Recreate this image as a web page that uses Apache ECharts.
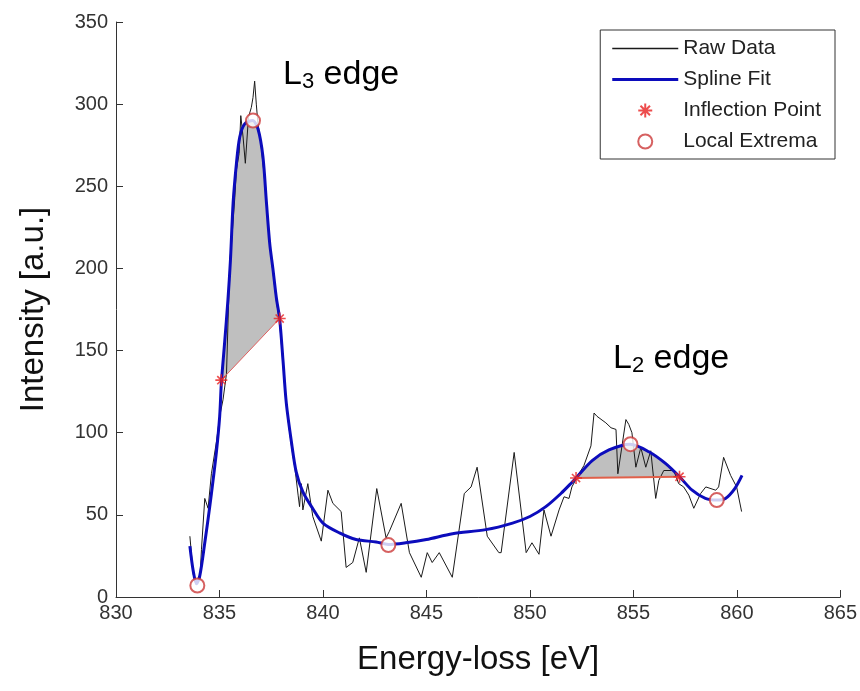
<!DOCTYPE html>
<html lang="en">
<head>
<meta charset="UTF-8">
<title>EELS L-edges</title>
<script src="https://cdn.jsdelivr.net/npm/echarts@6.0.0/dist/echarts.min.js"></script>
<style>html,body{margin:0;padding:0;background:#fff}</style>
</head>
<body>
<div id="chart" style="width:860px;height:691px"></div>
<script>
// raw spectrum (energy-loss eV, intensity a.u.)
var rawX = [833.57, 833.73, 833.81, 834.05, 834.13, 834.29, 834.45, 834.61, 834.86, 835.01,
    835.17, 835.34, 835.5, 835.58, 835.74, 835.82, 835.95, 836.03, 836.14, 836.25,
    836.4, 836.54, 836.62, 836.7, 836.78, 836.86, 837.0, 837.15, 837.3, 837.45,
    837.6, 837.75, 837.9, 838.05, 838.2, 838.35, 838.5, 838.65, 838.8, 838.87,
    838.95, 839.03, 839.27, 839.51, 839.92, 840.24, 840.48, 840.88, 841.12, 841.44,
    841.76, 842.09, 842.6, 843.05, 843.21, 843.78, 844.18, 844.75, 845.04, 845.28,
    845.62, 846.25, 846.83, 847.16, 847.45, 847.94, 848.5, 848.61, 849.24, 849.82,
    850.1, 850.44, 850.68, 851.02, 851.41, 851.65, 851.89, 852.03, 852.37, 852.61,
    852.95, 853.1, 853.24, 853.67, 853.92, 854.16, 854.25, 854.64, 854.78, 854.93,
    855.12, 855.36, 855.6, 855.84, 856.08, 856.23, 856.47, 856.95, 857.19, 857.43,
    857.68, 857.92, 858.25, 858.5, 858.98, 859.12, 859.36, 859.7, 859.99, 860.23];
var rawY = [37, 14, 10, 10, 29, 60, 54, 75, 95, 110,
    120, 136, 205, 215, 243, 260, 270, 293, 280, 264,
    292, 298, 304, 314, 300, 288, 276, 258, 236, 212,
    196, 180, 168, 145, 120, 104, 90, 78, 62, 55,
    69, 53, 69, 49, 34, 65, 57, 52, 18, 21,
    36, 15, 66, 36, 40, 57, 27, 12, 27, 21,
    27, 12, 63, 67, 79, 37, 27, 27, 88, 27,
    33, 26, 53, 37, 53, 61, 60, 67, 75, 80,
    92, 112, 110, 106, 103, 102, 75, 108, 105, 100,
    79, 91, 79, 89, 60, 71, 77, 77, 69, 67,
    62, 54, 63, 67, 65, 67, 85, 74, 67, 52];

// spline fit
var fitX = [833.57, 833.73, 833.89, 834.05, 834.29, 834.53, 834.69, 834.85, 835.01, 835.09,
    835.25, 835.41, 835.53, 835.66, 835.82, 835.98, 836.22, 836.6, 836.86, 837.1,
    837.27, 837.43, 837.58, 837.75, 837.91, 838.07, 838.23, 838.47, 838.71, 839.03,
    839.5, 840.0, 840.8, 841.6, 842.57, 843.16, 844.0, 845.0, 846.26, 847.87,
    849.16, 850.0, 850.77, 851.5, 852.05, 852.23, 853.01, 853.82, 854.85, 855.75,
    856.55, 857.23, 857.84, 858.48, 859.04, 859.45, 859.9, 860.25];
var fitY = [31, 16, 8, 13, 33, 55, 71, 88, 110, 130,
    155, 181, 205, 240, 264, 280, 288, 290, 285, 268,
    240, 215, 200, 182, 169, 144, 118, 95, 76, 64,
    54, 45, 39, 35, 33.5, 32, 33, 35, 38.5, 41,
    45, 49, 55, 63, 70, 72.4, 83, 89.5, 93, 88.4,
    81.3, 73.2, 65, 60, 59, 60, 66, 74];

var inflX = [835.09, 837.91, 852.23, 857.23];
var inflY = [132, 169.5, 72.4, 73.2];
var extX = [833.93, 836.62, 843.16, 854.86, 859.03];
var extY = [7, 290, 31.6, 93, 59];

var xRange = [830, 865, 5];
var yRange = [0, 350, 50];

function zip(xs, ys) {
    return xs.map(function (x, i) { return [x, ys[i]]; });
}

// region under the fit between two inflection points
function region(a, b) {
    var pts = [[inflX[a], inflY[a]]];
    for (var i = 0; i < fitX.length; i++) {
        if (fitX[i] > inflX[a] && fitX[i] < inflX[b]) pts.push([fitX[i], fitY[i]]);
    }
    pts.push([inflX[b], inflY[b]]);
    return pts;
}
var regions = [region(0, 1), region(2, 3)];

var starPath = 'path://M5,0L5,10M0,5L10,5M1.6,1.6L8.4,8.4M8.4,1.6L1.6,8.4';
var tickFont = '"Liberation Sans Narrow", "Liberation Sans", Arial, sans-serif';
var textFont = '"Liberation Sans", Arial, sans-serif';

var chart = echarts.init(document.getElementById('chart'));

var edgeRich = {
    n: { fontSize: 34, fontFamily: textFont, fill: '#000', lineHeight: 36 },
    s: { fontSize: 22, fontFamily: textFont, fill: '#000', lineHeight: 12, verticalAlign: 'bottom' }
};

var option = {
    animation: false,
    backgroundColor: '#fff',
    grid: { left: 116, right: 18, top: 22, bottom: 94 },
    legend: {
        data: [
            { name: 'Raw Data', icon: 'path://M0,0H66V1.3H0Z' },
            { name: 'Spline Fit', icon: 'path://M0,0H66V3H0Z' },
            { name: 'Inflection Point' },
            { name: 'Local Extrema' }
        ],
        orient: 'vertical',
        right: 25,
        top: 30,
        backgroundColor: '#fff',
        borderColor: '#333',
        borderWidth: 1,
        borderRadius: 0,
        padding: [8, 14, 7, 12],
        itemGap: 10,
        itemWidth: 66,
        itemHeight: 14,
        textStyle: { fontSize: 21, fontFamily: tickFont, color: '#222' }
    },
    xAxis: {
        type: 'value',
        min: xRange[0], max: xRange[1], interval: xRange[2],
        name: 'Energy-loss [eV]',
        nameLocation: 'middle',
        nameGap: 46,
        nameTextStyle: { fontSize: 33, fontFamily: textFont, color: '#111' },
        axisLine: { lineStyle: { color: '#333', width: 1 } },
        axisTick: { inside: true, length: 7, lineStyle: { color: '#333' } },
        axisLabel: { fontSize: 20, fontFamily: tickFont, color: '#333', margin: 6 },
        splitLine: { show: false }
    },
    yAxis: {
        type: 'value',
        min: yRange[0], max: yRange[1], interval: yRange[2],
        name: 'Intensity [a.u.]',
        nameLocation: 'middle',
        nameGap: 66,
        nameTextStyle: { fontSize: 33, fontFamily: textFont, color: '#111' },
        axisLine: { show: true, lineStyle: { color: '#333', width: 1 } },
        axisTick: { show: true, inside: true, length: 7, lineStyle: { color: '#333' } },
        axisLabel: { fontSize: 20, fontFamily: tickFont, color: '#333', margin: 8 },
        splitLine: { show: false }
    },
    graphic: [{
        type: 'text',
        left: 283, top: 58,
        style: { text: '{n|L}{s|3}{n| edge}', rich: edgeRich }
    }, {
        type: 'text',
        left: 613, top: 342,
        style: { text: '{n|L}{s|2}{n| edge}', rich: edgeRich }
    }],
    series: [{
        name: 'area',
        type: 'custom',
        z: 1,
        silent: true,
        data: [[836, 200], [855, 80]],
        renderItem: function (params, api) {
            var pts = regions[params.dataIndex].map(function (p) { return api.coord(p); });
            return {
                type: 'polygon',
                shape: { points: pts },
                style: { fill: '#bfbfbf', stroke: null }
            };
        }
    }, {
        name: 'Raw Data',
        type: 'line',
        z: 2,
        symbol: 'none',
        data: zip(rawX, rawY),
        lineStyle: { color: '#1a1a1a', width: 1 },
        itemStyle: { color: '#1a1a1a' }
    }, {
        name: 'Spline Fit',
        type: 'line',
        z: 3,
        symbol: 'none',
        smooth: 0.3,
        data: zip(fitX, fitY),
        lineStyle: { color: '#0c0cbc', width: 3 },
        itemStyle: { color: '#0c0cbc' }
    }, {
        name: 'chordL3',
        type: 'line',
        z: 4,
        symbol: 'none',
        data: zip(inflX.slice(0, 2), inflY.slice(0, 2)),
        lineStyle: { color: '#e06060', width: 1 }
    }, {
        name: 'chordL2',
        type: 'line',
        z: 4,
        symbol: 'none',
        data: zip(inflX.slice(2, 4), inflY.slice(2, 4)),
        lineStyle: { color: '#e0604a', width: 2 }
    }, {
        name: 'Inflection Point',
        type: 'scatter',
        z: 5,
        symbol: starPath,
        symbolSize: 12,
        data: zip(inflX, inflY),
        itemStyle: { color: '#e82020', borderColor: '#e82020', borderWidth: 1.6 }
    }, {
        name: 'Local Extrema',
        type: 'scatter',
        z: 5,
        symbol: 'emptyCircle',
        symbolSize: 14,
        data: zip(extX, extY),
        itemStyle: { color: '#cc3a3a', borderColor: '#cc3a3a', borderWidth: 1.2 }
    }]
};

chart.setOption(option);
</script>
</body>
</html>
